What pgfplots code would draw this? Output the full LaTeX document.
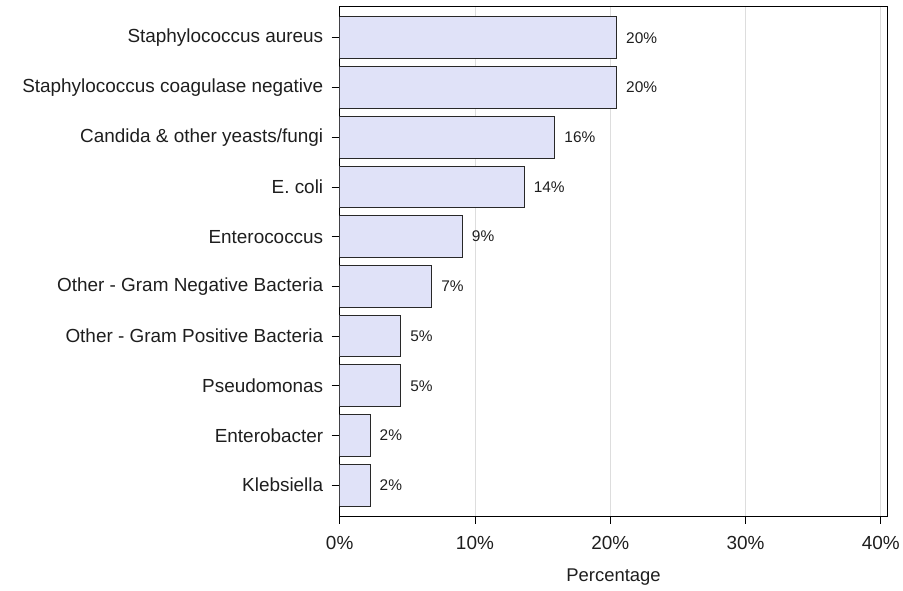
\documentclass[border=0pt]{standalone}
\usepackage{fontspec}
\setmainfont{Liberation Sans}
\usepackage{pgfplots}
\pgfplotsset{compat=1.18}
\usetikzlibrary{calc}

\definecolor{barfill}{RGB}{224,226,248}
\definecolor{baredge}{RGB}{40,40,40}
\definecolor{gridgray}{RGB}{221,221,221}
\definecolor{txt}{RGB}{30,30,30}

\begin{document}
\begin{tikzpicture}
  \begin{axis}[
    xbar,
    scale only axis,
    width=550pt,
    height=512pt,
    xmin=0, xmax=40.5,
    ymin=-0.64, ymax=9.62,
    y dir=reverse,
    bar width=0.84,
    xtick={0,10,20,30,40},
    xticklabel={\pgfmathprintnumber{\tick}\%},
    ytick={0,...,9},
    yticklabels={Staphylococcus aureus, Staphylococcus coagulase negative,
      Candida \& other yeasts/fungi, E. coli, Enterococcus,
      Other - Gram Negative Bacteria, Other - Gram Positive Bacteria,
      Pseudomonas, Enterobacter, Klebsiella},
    tick align=outside,
    major tick length=8pt,
    xtick pos=bottom,
    ytick pos=left,
    tick style={black, line width=0.8pt},
    axis line style={black, line width=0.9pt},
    xmajorgrids=true,
    grid style={gridgray, line width=0.8pt},
    ticklabel style={font=\fontsize{19}{21}\selectfont, text=txt},
    xticklabel style={yshift=-9pt},
    yticklabel style={xshift=-5pt},
    /pgf/number format/assume math mode=true,
    xlabel={Percentage},
    xlabel style={font=\fontsize{18.5}{20}\selectfont, text=txt, yshift=-12pt},
    nodes near coords,
    point meta=explicit symbolic,
    nodes near coords style={font=\fontsize{15.5}{17}\selectfont, text=txt, anchor=west, xshift=6pt},
  ]
    \addplot[fill=barfill, draw=baredge, line width=0.9pt] coordinates {
      (20.46,0) [20\%]
      (20.46,1) [20\%]
      (15.9,2)  [16\%]
      (13.63,3) [14\%]
      (9.06,4)  [9\%]
      (6.8,5)   [7\%]
      (4.5,6)   [5\%]
      (4.5,7)   [5\%]
      (2.24,8)  [2\%]
      (2.24,9)  [2\%]
    };
  \end{axis}
  \path ($(current axis.south west)+(-341pt,-75pt)$) rectangle ($(current axis.north east)+(12pt,6pt)$);
\end{tikzpicture}
\end{document}
